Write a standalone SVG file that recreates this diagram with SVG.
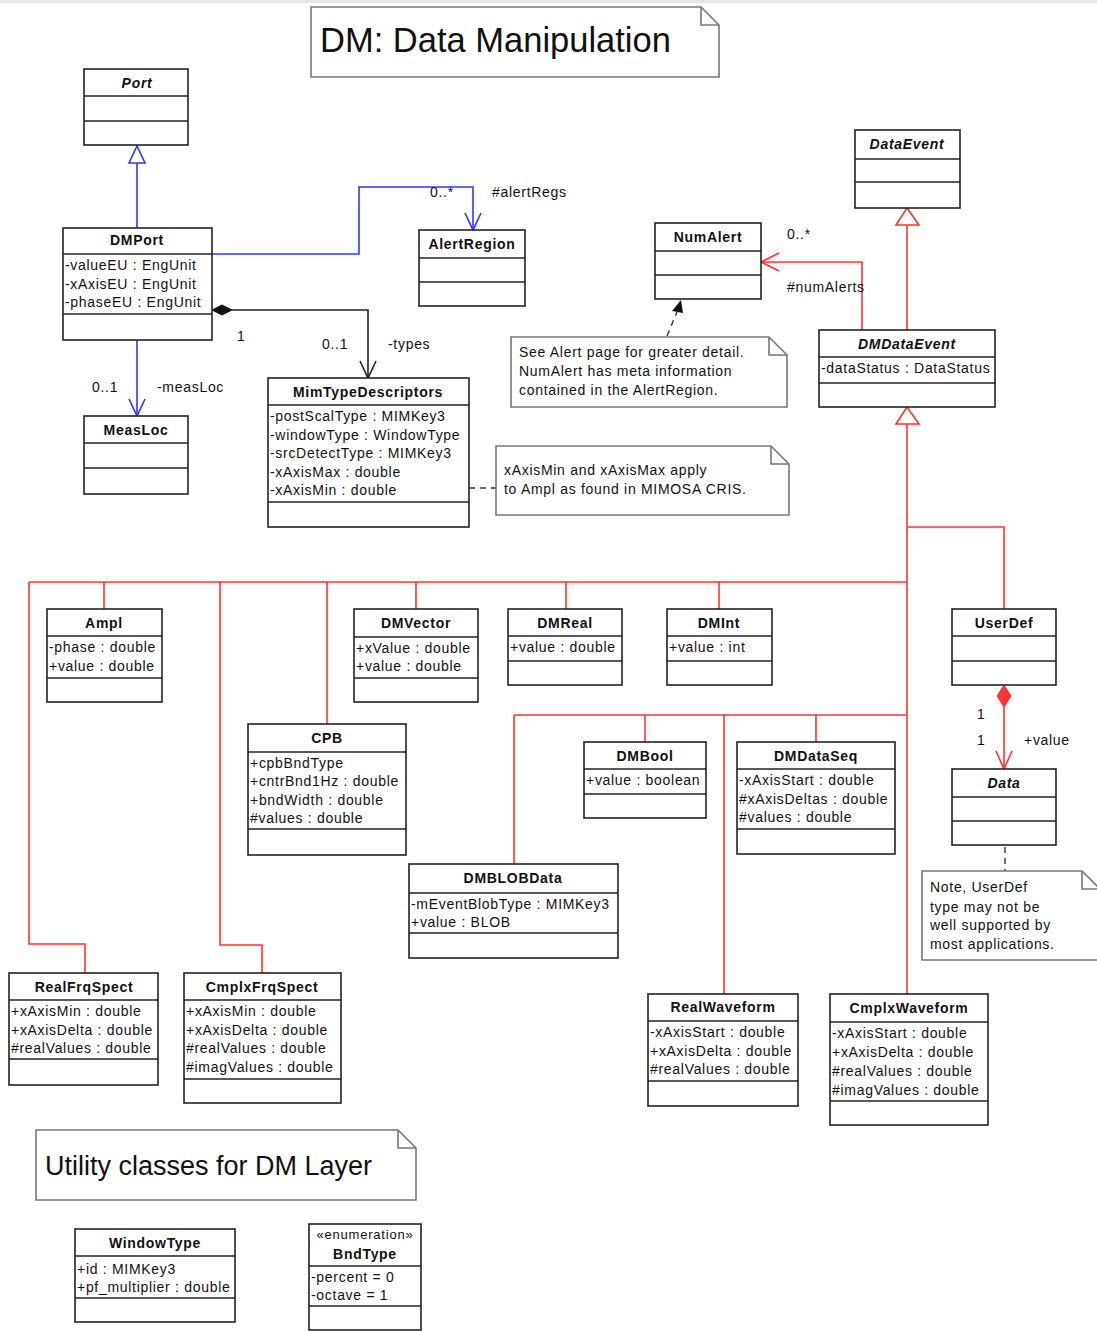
<svg xmlns="http://www.w3.org/2000/svg" width="1097" height="1331" viewBox="0 0 1097 1331">
<style>
.box{fill:#fff;stroke:#222;stroke-width:1.6}
.sep{stroke:#222;stroke-width:1.6}
.t{font-family:"Liberation Sans",Arial,sans-serif;font-size:14px;letter-spacing:0.7px;fill:#111}
.n{font-weight:bold;text-anchor:middle}
.it{font-style:italic}
.note{fill:#fff;stroke:#777;stroke-width:1.6}
.fold{fill:none;stroke:#777;stroke-width:1.6}
.red{fill:none;stroke:#ff3333;stroke-width:1.6}
.blue{fill:none;stroke:#3333ff;stroke-width:1.6}
.blk{fill:none;stroke:#222;stroke-width:1.6}
.dash{fill:none;stroke:#333;stroke-width:1.4;stroke-dasharray:6 5}
</style>
<rect x="0" y="0" width="1097" height="3" fill="#e6e6e6"/>

<g id="title-note">
<polygon class="note" points="311,7 701,7 719,25 719,77 311,77"/>
<polyline class="fold" points="701,7 701,25 719,25"/>
<text x="320" y="52" style="font-family:'Liberation Sans',Arial,sans-serif;font-size:34.5px;fill:#111">DM: Data Manipulation</text>
</g>

<g id="connectors">
<!-- blue -->
<line class="blue" x1="137" y1="163" x2="137" y2="228"/>
<polygon points="137,146 129,163 145,163" fill="#fff" stroke="#3333ff" stroke-width="1.6"/>
<polyline class="blue" points="212,254 359,254 359,187 473,187 473,230"/>
<polyline class="blue" points="465,213 473,230 481,213"/>
<line class="blue" x1="137" y1="340" x2="137" y2="416"/>
<polyline class="blue" points="129,399 137,416 145,399"/>
<!-- black -->
<polygon points="212,310 222,305 232,310 222,315" fill="#111" stroke="#111" stroke-width="1"/>
<polyline class="blk" points="232,310 368,310 368,378"/>
<polyline class="blk" points="360,361 368,378 376,361"/>
<line class="dash" x1="469" y1="488" x2="496" y2="488"/>
<line class="dash" x1="667" y1="336" x2="677" y2="312"/>
<polygon points="681,300 672,311 683,313" fill="#111"/>
<line class="dash" x1="1005" y1="847" x2="1005" y2="871"/>
<!-- red -->
<line class="red" x1="907" y1="330" x2="907" y2="225"/>
<polygon points="907,208 896,225 919,225" fill="#fff" stroke="#ff3333" stroke-width="1.6"/>
<polyline class="red" points="862,330 862,262 761,262"/>
<polyline class="red" points="779,253 761,262 779,271"/>
<line class="red" x1="907" y1="424" x2="907" y2="994"/>
<polygon points="907,407 896,424 919,424" fill="#fff" stroke="#ff3333" stroke-width="1.6"/>
<polyline class="red" points="907,527 1004,527 1004,609"/>
<line class="red" x1="29" y1="582" x2="907" y2="582"/>
<polyline class="red" points="29,582 29,944 85,944 85,973"/>
<line class="red" x1="104" y1="582" x2="104" y2="609"/>
<polyline class="red" points="220,582 220,945 262,945 262,973"/>
<line class="red" x1="327" y1="582" x2="327" y2="724"/>
<line class="red" x1="416" y1="582" x2="416" y2="609"/>
<line class="red" x1="566" y1="582" x2="566" y2="609"/>
<line class="red" x1="719" y1="582" x2="719" y2="609"/>
<line class="red" x1="514" y1="715" x2="907" y2="715"/>
<line class="red" x1="514" y1="715" x2="514" y2="864"/>
<line class="red" x1="645" y1="715" x2="645" y2="742"/>
<line class="red" x1="724" y1="715" x2="724" y2="994"/>
<line class="red" x1="816" y1="715" x2="816" y2="742"/>
<polygon points="1004,685 1011,696 1004,707 997,696" fill="#ff3333" stroke="#ff3333" stroke-width="1"/>
<line class="red" x1="1004" y1="707" x2="1004" y2="769"/>
<polyline class="red" points="996,751 1004,769 1012,751"/>
<!-- labels -->
<g class="t">
<text x="430" y="197">0..*</text>
<text x="492" y="197">#alertRegs</text>
<text x="787" y="239">0..*</text>
<text x="787" y="292">#numAlerts</text>
<text x="237" y="341">1</text>
<text x="322" y="349">0..1</text>
<text x="388" y="349">-types</text>
<text x="92" y="392">0..1</text>
<text x="157" y="392">-measLoc</text>
<text x="977" y="719">1</text>
<text x="977" y="745">1</text>
<text x="1024" y="745">+value</text>
</g>
</g>

<g id="Port">
<rect class="box" x="84" y="69" width="104" height="76"/>
<line class="sep" x1="84" y1="96" x2="188" y2="96"/><line class="sep" x1="84" y1="121" x2="188" y2="121"/>
<text class="t n it" x="137" y="88">Port</text>
</g>

<g id="DMPort">
<rect class="box" x="63" y="228" width="149" height="112"/>
<line class="sep" x1="63" y1="254" x2="212" y2="254"/><line class="sep" x1="63" y1="314" x2="212" y2="314"/>
<text class="t n" x="137" y="245">DMPort</text>
<text class="t" x="65" y="270">-valueEU : EngUnit</text>
<text class="t" x="65" y="289">-xAxisEU : EngUnit</text>
<text class="t" x="65" y="307">-phaseEU : EngUnit</text>
</g>

<g id="AlertRegion">
<rect class="box" x="419" y="230" width="106" height="76"/>
<line class="sep" x1="419" y1="258" x2="525" y2="258"/><line class="sep" x1="419" y1="282" x2="525" y2="282"/>
<text class="t n" x="472" y="249">AlertRegion</text>
</g>

<g id="NumAlert">
<rect class="box" x="655" y="223" width="106" height="76"/>
<line class="sep" x1="655" y1="251" x2="761" y2="251"/><line class="sep" x1="655" y1="275" x2="761" y2="275"/>
<text class="t n" x="708" y="242">NumAlert</text>
</g>

<g id="DataEvent">
<rect class="box" x="855" y="130" width="105" height="78"/>
<line class="sep" x1="855" y1="159" x2="960" y2="159"/><line class="sep" x1="855" y1="182" x2="960" y2="182"/>
<text class="t n it" x="907" y="149">DataEvent</text>
</g>

<g id="DMDataEvent">
<rect class="box" x="819" y="330" width="176" height="77"/>
<line class="sep" x1="819" y1="357" x2="995" y2="357"/><line class="sep" x1="819" y1="383" x2="995" y2="383"/>
<text class="t n it" x="907" y="349">DMDataEvent</text>
<text class="t" x="821" y="373">-dataStatus : DataStatus</text>
</g>

<g id="MeasLoc">
<rect class="box" x="84" y="416" width="104" height="78"/>
<line class="sep" x1="84" y1="443" x2="188" y2="443"/><line class="sep" x1="84" y1="468" x2="188" y2="468"/>
<text class="t n" x="136" y="435">MeasLoc</text>
</g>

<g id="MimTypeDescriptors">
<rect class="box" x="268" y="378" width="201" height="149"/>
<line class="sep" x1="268" y1="405" x2="469" y2="405"/><line class="sep" x1="268" y1="502" x2="469" y2="502"/>
<text class="t n" x="368" y="397">MimTypeDescriptors</text>
<text class="t" x="270" y="421">-postScalType : MIMKey3</text>
<text class="t" x="270" y="440">-windowType : WindowType</text>
<text class="t" x="270" y="458">-srcDetectType : MIMKey3</text>
<text class="t" x="270" y="477">-xAxisMax : double</text>
<text class="t" x="270" y="495">-xAxisMin : double</text>
</g>

<g id="note-alert">
<polygon class="note" points="511,337 769,337 787,355 787,407 511,407"/>
<polyline class="fold" points="769,337 769,355 787,355"/>
<text class="t" x="519" y="357">See Alert page for greater detail.</text>
<text class="t" x="519" y="376">NumAlert has meta information</text>
<text class="t" x="519" y="395">contained in the AlertRegion.</text>
</g>

<g id="note-xaxis">
<polygon class="note" points="496,446 771,446 789,464 789,515 496,515"/>
<polyline class="fold" points="771,446 771,464 789,464"/>
<text class="t" x="504" y="475">xAxisMin and xAxisMax apply</text>
<text class="t" x="504" y="494">to Ampl as found in MIMOSA CRIS.</text>
</g>

<g id="Ampl">
<rect class="box" x="47" y="609" width="115" height="93"/>
<line class="sep" x1="47" y1="636" x2="162" y2="636"/><line class="sep" x1="47" y1="678" x2="162" y2="678"/>
<text class="t n" x="104" y="628">Ampl</text>
<text class="t" x="49" y="652">-phase : double</text>
<text class="t" x="49" y="671">+value : double</text>
</g>

<g id="DMVector">
<rect class="box" x="354" y="609" width="124" height="93"/>
<line class="sep" x1="354" y1="637" x2="478" y2="637"/><line class="sep" x1="354" y1="678" x2="478" y2="678"/>
<text class="t n" x="416" y="628">DMVector</text>
<text class="t" x="356" y="653">+xValue : double</text>
<text class="t" x="356" y="671">+value : double</text>
</g>

<g id="DMReal">
<rect class="box" x="508" y="609" width="114" height="76"/>
<line class="sep" x1="508" y1="636" x2="622" y2="636"/><line class="sep" x1="508" y1="661" x2="622" y2="661"/>
<text class="t n" x="565" y="628">DMReal</text>
<text class="t" x="510" y="652">+value : double</text>
</g>

<g id="DMInt">
<rect class="box" x="667" y="609" width="105" height="76"/>
<line class="sep" x1="667" y1="636" x2="772" y2="636"/><line class="sep" x1="667" y1="661" x2="772" y2="661"/>
<text class="t n" x="719" y="628">DMInt</text>
<text class="t" x="669" y="652">+value : int</text>
</g>

<g id="UserDef">
<rect class="box" x="952" y="609" width="104" height="76"/>
<line class="sep" x1="952" y1="636" x2="1056" y2="636"/><line class="sep" x1="952" y1="661" x2="1056" y2="661"/>
<text class="t n" x="1004" y="628">UserDef</text>
</g>

<g id="CPB">
<rect class="box" x="248" y="724" width="158" height="131"/>
<line class="sep" x1="248" y1="752" x2="406" y2="752"/><line class="sep" x1="248" y1="829" x2="406" y2="829"/>
<text class="t n" x="327" y="743">CPB</text>
<text class="t" x="250" y="768">+cpbBndType</text>
<text class="t" x="250" y="786">+cntrBnd1Hz : double</text>
<text class="t" x="250" y="805">+bndWidth : double</text>
<text class="t" x="250" y="823">#values : double</text>
</g>

<g id="DMBool">
<rect class="box" x="584" y="742" width="122" height="76"/>
<line class="sep" x1="584" y1="769" x2="706" y2="769"/><line class="sep" x1="584" y1="794" x2="706" y2="794"/>
<text class="t n" x="645" y="761">DMBool</text>
<text class="t" x="586" y="785">+value : boolean</text>
</g>

<g id="DMDataSeq">
<rect class="box" x="737" y="742" width="158" height="112"/>
<line class="sep" x1="737" y1="769" x2="895" y2="769"/><line class="sep" x1="737" y1="829" x2="895" y2="829"/>
<text class="t n" x="816" y="761">DMDataSeq</text>
<text class="t" x="739" y="785">-xAxisStart : double</text>
<text class="t" x="739" y="804">#xAxisDeltas : double</text>
<text class="t" x="739" y="822">#values : double</text>
</g>

<g id="Data">
<rect class="box" x="952" y="769" width="104" height="76"/>
<line class="sep" x1="952" y1="797" x2="1056" y2="797"/><line class="sep" x1="952" y1="821" x2="1056" y2="821"/>
<text class="t n it" x="1004" y="788">Data</text>
</g>

<g id="note-userdef">
<polygon class="note" points="922,871 1082,871 1100,889 1100,960 922,960"/>
<polyline class="fold" points="1082,871 1082,889 1100,889"/>
<text class="t" x="930" y="892">Note, UserDef</text>
<text class="t" x="930" y="912">type may not be</text>
<text class="t" x="930" y="930">well supported by</text>
<text class="t" x="930" y="949">most applications.</text>
</g>

<g id="DMBLOBData">
<rect class="box" x="409" y="864" width="209" height="94"/>
<line class="sep" x1="409" y1="893" x2="618" y2="893"/><line class="sep" x1="409" y1="933" x2="618" y2="933"/>
<text class="t n" x="513" y="883">DMBLOBData</text>
<text class="t" x="411" y="909">-mEventBlobType : MIMKey3</text>
<text class="t" x="411" y="927">+value : BLOB</text>
</g>

<g id="RealFrqSpect">
<rect class="box" x="9" y="973" width="149" height="112"/>
<line class="sep" x1="9" y1="1000" x2="158" y2="1000"/><line class="sep" x1="9" y1="1059" x2="158" y2="1059"/>
<text class="t n" x="84" y="992">RealFrqSpect</text>
<text class="t" x="11" y="1016">+xAxisMin : double</text>
<text class="t" x="11" y="1035">+xAxisDelta : double</text>
<text class="t" x="11" y="1053">#realValues : double</text>
</g>

<g id="CmplxFrqSpect">
<rect class="box" x="184" y="973" width="157" height="130"/>
<line class="sep" x1="184" y1="1000" x2="341" y2="1000"/><line class="sep" x1="184" y1="1079" x2="341" y2="1079"/>
<text class="t n" x="262" y="992">CmplxFrqSpect</text>
<text class="t" x="186" y="1016">+xAxisMin : double</text>
<text class="t" x="186" y="1035">+xAxisDelta : double</text>
<text class="t" x="186" y="1053">#realValues : double</text>
<text class="t" x="186" y="1072">#imagValues : double</text>
</g>

<g id="RealWaveform">
<rect class="box" x="648" y="994" width="150" height="112"/>
<line class="sep" x1="648" y1="1021" x2="798" y2="1021"/><line class="sep" x1="648" y1="1081" x2="798" y2="1081"/>
<text class="t n" x="723" y="1012">RealWaveform</text>
<text class="t" x="650" y="1037">-xAxisStart : double</text>
<text class="t" x="650" y="1056">+xAxisDelta : double</text>
<text class="t" x="650" y="1074">#realValues : double</text>
</g>

<g id="CmplxWaveform">
<rect class="box" x="830" y="994" width="158" height="131"/>
<line class="sep" x1="830" y1="1022" x2="988" y2="1022"/><line class="sep" x1="830" y1="1101" x2="988" y2="1101"/>
<text class="t n" x="909" y="1013">CmplxWaveform</text>
<text class="t" x="832" y="1038">-xAxisStart : double</text>
<text class="t" x="832" y="1057">+xAxisDelta : double</text>
<text class="t" x="832" y="1076">#realValues : double</text>
<text class="t" x="832" y="1095">#imagValues : double</text>
</g>

<g id="utility-note">
<polygon class="note" points="36,1130 398,1130 416,1148 416,1200 36,1200"/>
<polyline class="fold" points="398,1130 398,1148 416,1148"/>
<text x="45" y="1175" style="font-family:'Liberation Sans',Arial,sans-serif;font-size:27px;fill:#111">Utility classes for DM Layer</text>
</g>

<g id="WindowType">
<rect class="box" x="75" y="1229" width="160" height="93"/>
<line class="sep" x1="75" y1="1256" x2="235" y2="1256"/><line class="sep" x1="75" y1="1298" x2="235" y2="1298"/>
<text class="t n" x="155" y="1248">WindowType</text>
<text class="t" x="77" y="1274">+id : MIMKey3</text>
<text class="t" x="77" y="1292">+pf_multiplier : double</text>
</g>

<g id="BndType">
<rect class="box" x="309" y="1224" width="112" height="106"/>
<line class="sep" x1="309" y1="1266" x2="421" y2="1266"/><line class="sep" x1="309" y1="1306" x2="421" y2="1306"/>
<text class="t" x="365" y="1239" text-anchor="middle" style="font-size:13px;letter-spacing:0.8px">«enumeration»</text>
<text class="t n" x="365" y="1259">BndType</text>
<text class="t" x="311" y="1282">-percent = 0</text>
<text class="t" x="311" y="1300">-octave = 1</text>
</g>
</svg>
